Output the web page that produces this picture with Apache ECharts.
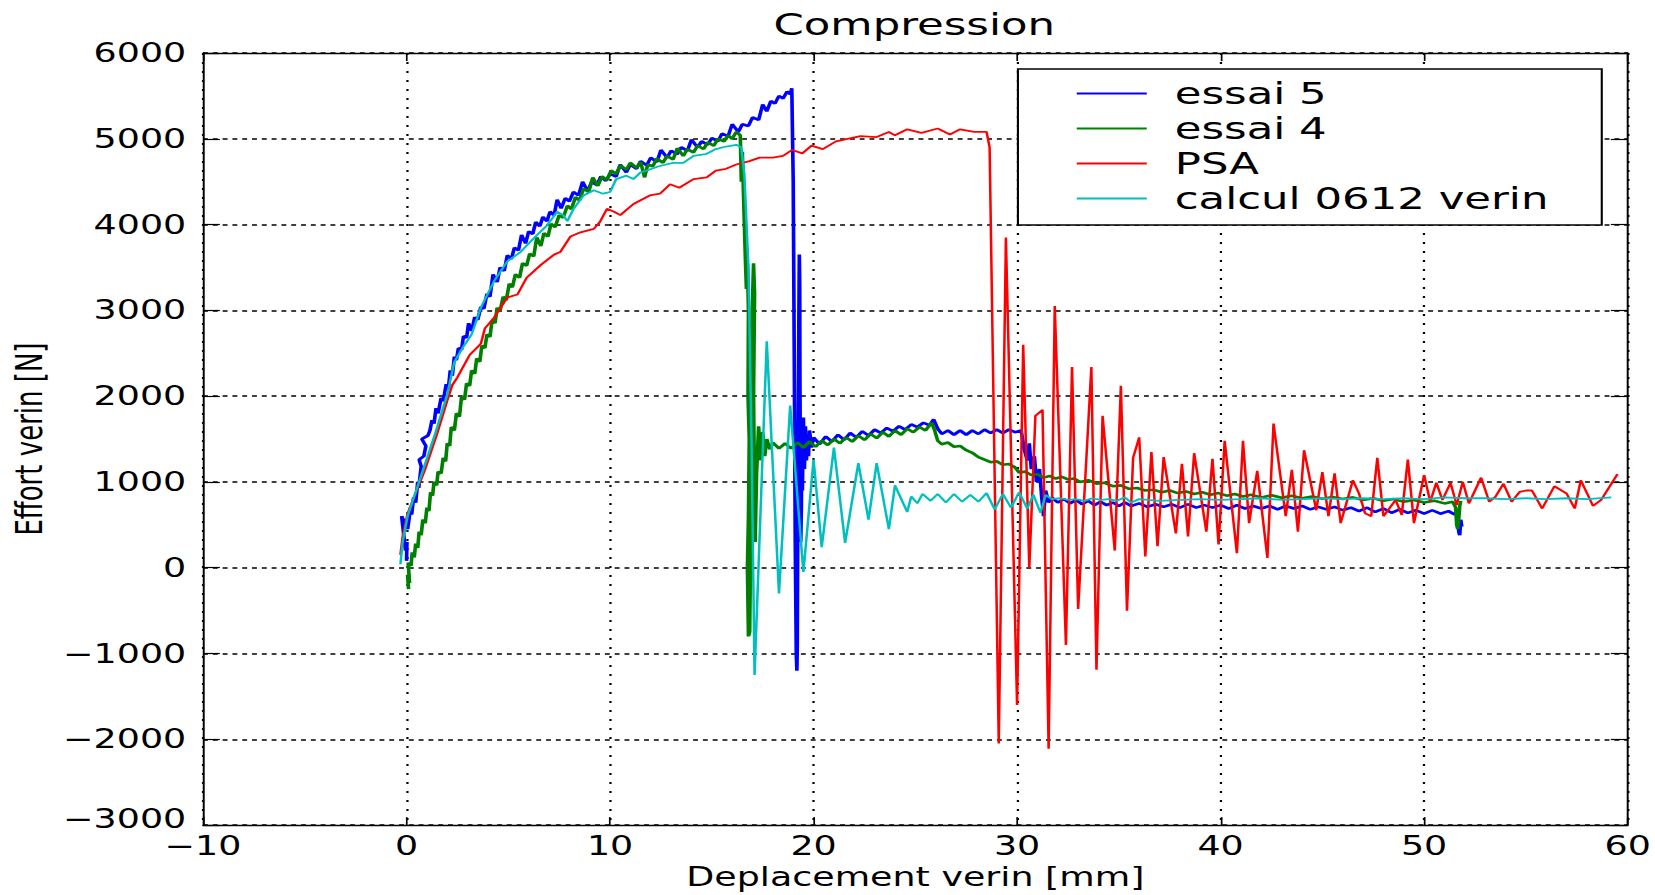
<!DOCTYPE html>
<html><head><meta charset="utf-8">
<script src="https://cdn.jsdelivr.net/npm/echarts@6/dist/echarts.min.js"></script>
<style>
html,body{margin:0;padding:0;background:#fff;overflow:hidden;width:1655px;height:895px}
#chart{width:1182px;height:895px;transform:scaleX(1.400169);transform-origin:0 0;}
</style></head><body><div id="chart"></div>
<script>
const titleText = 'Compression';
const xAxisName = 'Deplacement verin [mm]';
const yAxisName = 'Effort verin [N]';
const xTicks = [-10, 0, 10, 20, 30, 40, 50, 60];
const yTicks = [-3000, -2000, -1000, 0, 1000, 2000, 3000, 4000, 5000, 6000];
const seriesNames = ['essai 5', 'essai 4', 'PSA', 'calcul 0612 verin'];
const seriesColors = ['#0000ff', '#008000', '#ff0000', '#00bfbf'];

const essai5 = [
[0.00,80],[0.02,300],[-0.05,200],[-0.24,600],[0.05,450],[0.12,560],[0.20,700],[0.25,620],[0.35,820],[0.45,760],[0.55,1000],[0.60,930],[0.72,1180],[0.62,1260],[0.85,1300],[0.95,1420],[0.75,1500],[1.05,1540],[1.15,1600],[1.25,1720],[1.35,1680],[1.45,1860],[1.55,1800],[1.70,1980],[1.80,1940],[1.95,2140],[2.05,2080],[2.15,2300],[2.25,2240],[2.35,2460],[2.45,2420],[2.55,2560],[2.70,2540],[2.80,2700],[2.95,2680],[3.05,2850],[3.20,2760],[3.35,2920],[3.50,2890],[3.65,3040],[3.80,3020],[3.95,3190],[4.10,3160],[4.25,3420],[4.45,3330],[4.60,3500],[4.80,3460],[4.95,3640],[5.15,3600],[5.30,3730],[5.50,3700],[5.65,3880],[5.85,3780],[6.00,3920],[6.20,3890],[6.35,4030],[6.55,3980],[6.70,4090],[6.90,4040],[7.05,4150],[7.25,4110],[7.40,4290],[7.60,4190],[7.80,4310],[8.00,4270],[8.20,4380],[8.45,4340],[8.65,4500],[8.90,4390],[9.10,4500],[9.35,4460],[9.55,4560],[9.80,4510],[10.0,4590],[10.3,4560],[10.5,4700],[10.8,4610],[11.0,4700],[11.3,4650],[11.5,4740],[11.8,4690],[12.0,4780],[12.3,4730],[12.5,4870],[12.8,4780],[13.0,4860],[13.3,4820],[13.5,4900],[13.8,4860],[14.0,4990],[14.3,4900],[14.5,4970],[14.8,4930],[15.0,5010],[15.3,4970],[15.5,5060],[15.8,5030],[16.0,5170],[16.3,5080],[16.5,5170],[16.8,5150],[17.0,5250],[17.3,5220],[17.5,5400],[17.7,5320],[17.9,5440],[18.1,5410],[18.3,5500],[18.5,5470],[18.7,5550],[18.85,5520],[18.93,5590],
[19.0,4500],[19.05,2500],[19.1,300],[19.15,-1000],[19.18,-1200],[19.2,-900],[19.22,300],[19.25,1800],[19.28,3000],[19.3,3650],[19.32,3300],[19.33,2200],[19.35,1300],[19.37,300],[19.4,700],[19.42,1500],[19.45,900],[19.5,1750],[19.55,1150],[19.6,1650],[19.65,1250],[19.7,1550],[19.75,1300],[19.8,1600],[19.9,1400],[20.0,1520],
[20.3,1440],[20.6,1530],[20.9,1470],[21.2,1550],[21.5,1490],[21.8,1570],[22.1,1520],[22.4,1590],[22.7,1540],[23.0,1610],[23.3,1570],[23.6,1630],[23.9,1590],[24.2,1650],[24.5,1610],[24.8,1670],[25.1,1640],[25.4,1690],[25.7,1660],[25.9,1730],[26.1,1620],[26.3,1560],[26.6,1600],[26.9,1550],[27.2,1600],[27.5,1550],[27.8,1600],[28.1,1560],[28.4,1610],[28.7,1570],[29.0,1610],[29.3,1570],[29.6,1610],[29.9,1580],[30.2,1600],[30.35,1380],[30.5,1250],[30.6,1450],[30.7,1150],[30.85,1300],[30.95,1000],[31.1,1150],[31.2,850],[31.3,600],[31.4,900],[31.55,760],[31.7,820],[32.0,760],[32.3,800],[32.6,750],[32.9,790],[33.2,740],[33.5,780],[33.8,730],[34.1,770],[34.4,730],[34.7,760],[35.0,720],[35.3,760],[35.6,720],[36.0,750],[36.4,710],[36.8,740],[37.2,710],[37.6,740],[38.0,700],[38.4,740],[38.8,700],[39.2,730],[39.6,700],[40.0,730],[40.4,690],[40.8,730],[41.2,690],[41.6,720],[42.0,690],[42.4,720],[42.8,680],[43.2,720],[43.6,690],[44.0,720],[44.4,680],[44.8,710],[45.2,680],[45.6,710],[46.0,670],[46.4,700],[46.8,660],[47.2,700],[47.6,650],[48.0,690],[48.4,640],[48.8,680],[49.2,640],[49.6,670],[50.0,630],[50.4,670],[50.8,630],[51.2,660],[51.5,620],[51.65,680],[51.7,420],[51.75,380],[51.8,560],[51.85,480]
];

const essai4 = [
[0.10,-250],[0.05,-80],[0.15,-180],[0.08,60],[0.22,20],[0.28,180],[0.38,120],[0.45,280],[0.55,230],[0.62,420],[0.72,380],[0.80,560],[0.92,520],[1.00,700],[1.10,660],[1.18,880],[1.28,840],[1.35,1000],[1.48,960],[1.55,1120],[1.70,1100],[1.80,1280],[1.92,1240],[2.00,1450],[2.12,1420],[2.20,1640],[2.35,1600],[2.45,1800],[2.60,1760],[2.70,1990],[2.85,1960],[2.95,2150],[3.10,2120],[3.20,2300],[3.35,2260],[3.45,2440],[3.60,2400],[3.70,2590],[3.85,2560],[3.95,2720],[4.10,2690],[4.20,2880],[4.35,2850],[4.45,3030],[4.60,3000],[4.75,3160],[4.90,3120],[5.05,3310],[5.20,3270],[5.35,3420],[5.55,3380],[5.70,3550],[5.90,3520],[6.05,3660],[6.25,3630],[6.40,3850],[6.60,3750],[6.75,3900],[6.95,3860],[7.10,4010],[7.30,3970],[7.50,4110],[7.70,4080],[7.90,4220],[8.10,4180],[8.30,4320],[8.50,4280],[8.70,4420],[8.95,4380],[9.15,4550],[9.40,4450],[9.60,4560],[9.85,4520],[10.05,4630],[10.30,4590],[10.50,4690],[10.80,4640],[11.00,4720],[11.30,4660],[11.50,4730],[11.70,4550],[11.85,4700],[12.10,4680],[12.30,4770],[12.60,4720],[12.80,4800],[13.10,4760],[13.30,4890],[13.60,4800],[13.80,4880],[14.10,4840],[14.30,4920],[14.60,4880],[14.80,4960],[15.10,4920],[15.30,5000],[15.60,4970],[15.80,5040],[16.00,5000],[16.20,5080],[16.40,5040],
[16.45,4500],[16.5,4850],[16.55,4400],[16.65,3600],[16.7,3250],[16.75,3550],[16.8,3000],[16.78,2000],[16.84,1500],[16.8,600],[16.75,0],[16.8,-800],[16.86,-750],[16.9,100],[16.95,1100],[16.92,2200],[17.0,3100],[17.05,3550],[17.1,3200],[17.05,2000],[17.1,900],[17.13,300],[17.2,1100],[17.3,1650],[17.4,1250],[17.5,1580],[17.6,1300],[17.7,1500],[17.85,1380],[18.0,1460],[18.3,1390],
[18.6,1450],[18.9,1390],[19.2,1460],[19.5,1400],[19.8,1470],[20.1,1410],[20.4,1480],[20.7,1430],[21.0,1500],[21.3,1450],[21.6,1520],[21.9,1470],[22.2,1540],[22.5,1490],[22.8,1560],[23.1,1510],[23.4,1580],[23.7,1530],[24.0,1600],[24.3,1550],[24.6,1620],[24.9,1580],[25.2,1640],[25.5,1600],[25.8,1690],[25.95,1600],[26.1,1480],[26.3,1440],[26.6,1460],[26.9,1410],[27.2,1420],[27.5,1370],[27.8,1340],[28.1,1290],[28.4,1260],[28.7,1230],[29.0,1240],[29.3,1200],[29.6,1210],[29.9,1170],[30.1,1110],[30.4,1120],[30.7,1080],[31.0,1090],[31.3,1050],[31.6,1070],[31.9,1040],[32.2,1060],[32.5,1030],[32.8,1040],[33.1,1000],[33.5,1020],[33.9,980],[34.3,990],[34.7,950],[35.1,960],[35.5,920],[35.9,930],[36.3,900],[36.7,910],[37.1,880],[37.5,900],[37.9,870],[38.3,890],[38.7,860],[39.1,880],[39.5,850],[39.9,870],[40.3,840],[40.7,860],[41.1,830],[41.5,850],[42.0,820],[42.5,845],[43.0,815],[43.5,840],[44.0,810],[44.5,830],[45.0,805],[45.5,825],[46.0,800],[46.5,820],[47.0,790],[47.5,810],[48.0,780],[48.5,800],[49.0,770],[49.5,790],[50.0,760],[50.5,780],[51.0,750],[51.4,770],[51.55,700],[51.6,500],[51.65,450],[51.7,560],[51.75,720],[51.8,780]
];

const psa = [
[-0.3,150],[-0.2,350],[0.05,630],[0.5,900],[0.9,1140],[1.5,1560],[2.0,1950],[2.25,2130],[2.5,2220],[3.1,2480],[3.65,2610],[3.85,2790],[4.3,2915],[4.95,3150],[5.45,3185],[5.9,3380],[6.6,3530],[7.25,3650],[7.55,3680],[8.05,3860],[8.55,3910],[9.2,3950],[9.5,4030],[9.85,4185],[10.2,4150],[10.5,4110],[11.15,4240],[11.95,4340],[12.45,4360],[12.95,4470],[13.4,4430],[14.1,4530],[14.75,4550],[15.2,4630],[15.7,4650],[16.2,4700],[16.85,4740],[17.35,4780],[18.0,4780],[18.5,4800],[18.95,4870],[19.45,4830],[19.9,4920],[20.45,4880],[21.1,4970],[21.5,4990],[22.3,5030],[23.1,5020],[23.7,5080],[24.0,5040],[24.6,5110],[25.3,5070],[26.1,5120],[26.7,5050],[27.2,5110],[27.9,5080],[28.5,5080],[28.65,4900],[29.1,-2050],[29.45,3850],[30.0,-1600],[30.3,2600],[30.6,0],[30.9,1770],[31.25,1840],[31.55,-2110],[31.85,3050],[32.4,-900],[32.7,2340],[33.0,-480],[33.65,2340],[33.9,-1190],[34.2,1770],[34.8,200],[35.1,2120],[35.4,-500],[35.7,1280],[36.0,1520],[36.3,130],[36.6,1350],[36.9,250],[37.2,1290],[37.8,400],[38.1,1210],[38.4,365],[38.7,1335],[39.3,420],[39.6,1270],[39.9,270],[40.2,1480],[40.8,170],[41.1,1480],[41.4,520],[41.8,1130],[42.3,115],[42.6,1680],[43.2,600],[43.5,1140],[43.8,420],[44.1,1370],[44.7,670],[45.0,1115],[45.3,600],[45.6,1100],[45.9,520],[46.5,1020],[46.8,865],[47.1,635],[47.4,600],[47.7,1280],[48.0,600],[48.6,790],[48.9,615],[49.2,1260],[49.5,520],[50.0,1080],[50.3,770],[50.6,990],[50.9,790],[51.3,990],[51.6,730],[51.9,1000],[52.2,750],[52.8,1050],[53.2,770],[53.5,827],[53.9,980],[54.3,770],[54.7,885],[55.0,900],[55.3,900],[55.8,690],[56.4,950],[57.0,865],[57.4,690],[57.7,1020],[58.3,720],[58.7,790],[59.5,1090]
];

const calcul = [
[-0.3,40],[-0.2,290],[0.05,600],[0.7,1060],[1.35,1520],[2.0,2020],[2.35,2400],[2.8,2580],[3.2,2720],[3.65,3030],[4.3,3340],[4.95,3570],[5.6,3680],[6.25,3840],[6.9,3990],[7.4,4150],[7.7,4110],[7.9,4040],[8.2,4180],[8.7,4340],[9.2,4400],[9.65,4360],[10.0,4380],[10.3,4530],[10.8,4570],[11.15,4530],[11.5,4610],[11.8,4630],[12.4,4680],[13.1,4720],[13.6,4720],[14.1,4800],[14.7,4820],[15.2,4880],[15.7,4910],[16.2,4930],[16.45,4900],[16.6,4580],[16.8,3500],[16.95,1500],[17.1,-1250],[17.7,2640],[18.3,-300],[18.85,1890],[19.5,-50],[20.0,1260],[20.4,240],[21.0,1400],[21.55,290],[22.2,1220],[22.7,560],[23.1,1220],[23.7,450],[24.0,960],[24.6,650],[24.8,830],[25.1,750],[25.35,860],[25.75,780],[26.1,860],[26.5,760],[26.9,860],[27.3,770],[27.7,850],[28.1,770],[28.5,870],[28.9,680],[29.3,860],[29.7,700],[30.1,880],[30.5,690],[30.8,850],[31.15,640],[31.4,850],[31.7,800],[32.1,810],[32.5,790],[32.9,800],[33.3,780],[33.7,810],[34.1,790],[34.5,800],[34.9,780],[35.3,820],[35.6,760],[36.0,800],[37.0,780],[38.0,790],[39.0,800],[40.0,790],[41.0,800],[42.0,810],[43.0,790],[44.0,800],[45.0,810],[46.0,800],[47.0,810],[48.0,800],[49.0,810],[50.0,800],[51.0,820],[52.0,810],[53.0,810],[54.0,800],[55.0,810],[56.0,800],[57.0,810],[58.0,800],[59.2,820]
];

const seriesData = [essai5, essai4, psa, calcul];
const FONT = 'DejaVu Sans';
const minus = v => String(v).replace('-', '\u2212');

const chart = echarts.init(document.getElementById('chart'), null, {renderer: 'svg'});
const baseAxis = (ticks) => ({
  type: 'value', min: ticks[0], max: ticks[ticks.length - 1], interval: ticks[1] - ticks[0]
});
chart.setOption({
  animation: false,
  backgroundColor: '#fff',
  title: {
    text: titleText, left: 648, top: 4, textAlign: 'center',
    textStyle: {fontFamily: FONT, fontSize: 31, fontWeight: 'normal', color: '#000'}
  },
  legend: {
    orient: 'vertical', left: 727, top: 69,
    padding: [9, 38, 11, 42], itemGap: 4, itemWidth: 50, itemHeight: 2, icon: 'rect',
    borderColor: '#000', borderWidth: 1.5, backgroundColor: '#fff',
    textStyle: {fontFamily: FONT, fontSize: 31, color: '#000', padding: [0, 0, 0, 15]},
    data: seriesNames
  },
  grid: {left: 145, right: 16, top: 53, bottom: 66, containLabel: false},
  xAxis: [
    Object.assign(baseAxis(xTicks), {
      position: 'bottom', name: xAxisName, nameLocation: 'middle', nameGap: 35,
      nameTextStyle: {fontFamily: FONT, fontSize: 26, color: '#000'},
      axisLine: {show: true, onZero: false, lineStyle: {color: '#000', width: 1.4}},
      axisTick: {show: true, inside: true, length: 8, lineStyle: {color: '#000', width: 1.2}},
      axisLabel: {fontFamily: FONT, fontSize: 26, lineHeight: 20, color: '#000', margin: 11, formatter: minus},
      splitLine: {show: true, lineStyle: {color: '#000', width: 1.6, type: [2, 7]}}
    }),
    Object.assign(baseAxis(xTicks), {
      position: 'top',
      axisLine: {show: true, onZero: false, lineStyle: {color: '#000', width: 1.4}},
      axisTick: {show: true, inside: true, length: 8, lineStyle: {color: '#000', width: 1.2}},
      axisLabel: {show: false}, splitLine: {show: false}
    })
  ],
  yAxis: [
    Object.assign(baseAxis(yTicks), {
      position: 'left', name: yAxisName, nameLocation: 'middle', nameGap: 108,
      nameTextStyle: {fontFamily: FONT, fontSize: 26, color: '#000'},
      axisLine: {show: true, onZero: false, lineStyle: {color: '#000', width: 1.4}},
      axisTick: {show: true, inside: true, length: 12, lineStyle: {color: '#000', width: 1.2}},
      axisLabel: {fontFamily: FONT, fontSize: 26, lineHeight: 12, color: '#000', margin: 12,
        verticalAlignMinLabel: 'bottom', formatter: minus},
      splitLine: {show: true, lineStyle: {color: '#000', width: 1.5, type: [3.5, 3.5]}}
    }),
    Object.assign(baseAxis(yTicks), {
      position: 'right',
      axisLine: {show: true, onZero: false, lineStyle: {color: '#000', width: 1.4}},
      axisTick: {show: true, inside: true, length: 12, lineStyle: {color: '#000', width: 1.2}},
      axisLabel: {show: false}, splitLine: {show: false}
    })
  ],
  series: seriesData.map((d, i) => ({
    name: seriesNames[i], type: 'line', xAxisIndex: 0, yAxisIndex: 0,
    data: d, symbol: 'none', showSymbol: false, smooth: false, sampling: null,
    color: seriesColors[i],
    lineStyle: {color: seriesColors[i], width: i < 2 ? 2.6 : 1.8},
    emphasis: {disabled: true}
  }))
});
</script></body></html>
